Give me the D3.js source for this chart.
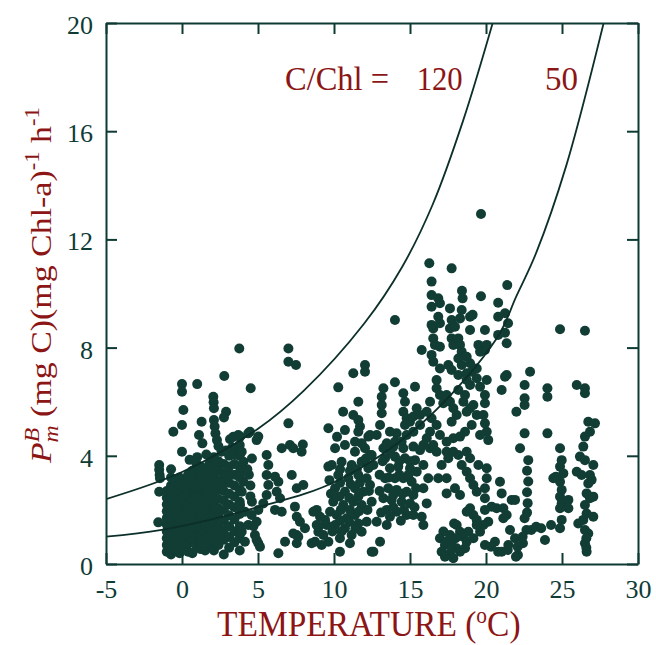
<!DOCTYPE html>
<html><head><meta charset="utf-8">
<script src="https://cdn.jsdelivr.net/npm/d3@7"></script>
<style>body{margin:0;background:#fff}svg{display:block}</style>
</head><body>
<svg id="chart" width="656" height="645"></svg>
<script>
// ---------- data ----------
const xTicks = [-5, 0, 5, 10, 15, 20, 25, 30];
const yTicks = [0, 4, 8, 12, 16, 20];
const ratioLabels = ["C/Chl =", "120", "50"];

// model curves (temperature, PmB)
const curveC120 = [[-5,2.4],[0,3.4],[5,5.0],[8,6.4],[12,8.9],[14.5,11.0],[16.5,13.3],[18.5,16.4],[20.44,20]];
const curveC50 = [[-5,1.01],[-1.34,1.26],[5,2.1],[10.18,3.07],[15.66,5.14],[20.7,8.34],[22.0,9.9],[23.3,11.5],[25.26,14.69],[27.74,20]];

// dense cold-water block: [temperature, [PmB values]]
const coldCoreColumns = [
 [-1.0, [0.45,0.7,0.95,1.2,1.45,1.7,1.95,2.2,2.45,2.7]],
 [-0.72,[0.35,0.6,0.9,1.15,1.4,1.65,1.9,2.15,2.4,2.65,2.9,3.2,3.5]],
 [-0.44,[0.5,0.8,1.05,1.3,1.55,1.8,2.05,2.3,2.55,2.8,3.05]],
 [-0.16,[0.4,0.7,0.95,1.2,1.45,1.7,1.95,2.2,2.45,2.7,2.95,3.2]],
 [0.12, [0.55,0.85,1.1,1.35,1.6,1.85,2.1,2.35,2.6,2.85,3.1]],
 [0.4,  [0.45,0.75,1.0,1.25,1.5,1.75,2.0,2.25,2.5,2.75,3.0,3.3]],
 [0.68, [0.4,0.9,1.15,1.4,1.65,1.9,2.15,2.4,2.65,2.9,3.15,3.45]],
 [0.96, [0.6,0.85,1.1,1.35,1.6,1.85,2.1,2.35,2.6,2.85,3.1,3.4,3.7]],
 [1.24, [0.55,0.8,1.05,1.3,1.55,1.8,2.05,2.3,2.55,2.8,3.05,3.35,3.6]],
 [1.52, [0.5,0.9,1.2,1.45,1.75,2.0,2.3,2.6,2.9,3.15,3.45]],
 [1.8,  [0.65,1.0,1.3,1.6,1.9,2.2,2.5,2.8,3.1,3.4,3.7]],
 [2.1,  [0.5,0.85,1.2,1.5,1.85,2.15,2.45,2.75,3.05,3.35,3.65,3.95]],
 [2.4,  [0.7,1.05,1.4,1.75,2.05,2.4,2.75,3.1,3.45,3.8]],
 [2.75, [0.35,0.9,1.25,1.6,2.0,2.35,2.7,3.0,3.35,3.7]],
 [3.1,  [0.6,1.0,1.4,1.8,2.2,2.6,3.0,3.3,3.6,4.0]],
 [3.45, [0.8,1.2,1.65,2.1,2.5,2.9,3.3,3.7,4.05]],
 [3.8,  [0.5,0.95,1.4,1.85,2.3,2.75,3.2,3.6,4.0,4.4]]
];

// scattered observations [temperature, PmB]
const obsCold = [[-1.5,3.66],[-1.5,3.48],[-1.47,3.29],[-1.45,3.17],[-1.5,2.67],[-1.56,1.54],
 [3.77,7.97],[2.78,6.95],[0.0,6.65],[0.0,6.37],[1.0,6.65],[4.52,6.5],[2.06,6.18],[2.08,5.98],[2.1,5.76],
 [2.9,5.63],[2.76,5.42],[0.09,5.69],[1.29,5.26],[-0.57,4.89],[0.0,5.14],[2.1,5.32],[2.15,5.08],[2.2,4.83],
 [2.3,4.58],[1.12,4.77],[1.34,4.46],[3.16,4.61],[3.38,4.7],[3.7,4.77],[4.36,4.83],[4.91,4.58],[0.0,4.15],
 [3.7,4.34],[2.4,4.35],[2.6,4.15],[4.47,4.89],[5.02,4.71],[3.82,4.71],[0.5,3.85],[1.0,3.95],[1.6,4.05],
 [2.9,4.2],[3.3,4.3]];

const obsCool = [[3.93,4.15],[4.04,3.78],[3.82,3.41],[4.04,3.04],[3.93,2.67],[3.82,2.18],[4.14,1.93],[4.58,1.81],
 [4.36,1.44],[3.93,1.19],[4.14,0.82],[4.8,1.07],[5.02,0.77],[4.91,1.56],[5.02,2.0],[4.5,2.5],[4.4,3.3],[4.6,3.9],
 [4.5,2.9],[4.6,2.3],[4.3,3.5],[4.7,1.4],[4.91,0.89],[5.13,0.64],
 [5.57,4.03],[5.68,3.66],[5.57,3.29],[5.68,2.92],[5.57,2.55],[5.35,2.24],
 [6.34,3.04],[6.23,2.67],[6.45,2.43],[6.56,1.93],[6.12,2.0],[6.12,3.23],[6.56,4.28],[7.1,4.4],[7.32,4.28],
 [7.95,4.42],[7.87,4.15],[7.22,3.29],[7.55,2.8],[7.98,2.92],[7.43,2.12],[7.76,1.56],[8.09,1.32],[7.55,1.07],
 [7.55,0.77],[6.78,0.82],[6.34,0.4],[8.86,2.0],[9.08,1.75],[8.86,1.44],[8.97,1.19],[8.75,0.82],[9.3,1.07],
 [9.52,1.44],[9.74,1.93],[9.63,0.82],[9.19,0.7],[8.53,0.77],[7.32,1.13],[7.65,1.01],[7.55,1.75],[8.64,1.93],
 [8.97,1.38],[9.41,1.63],[9.63,3.6],
 [7.0,7.97],[7.0,7.48],[7.5,7.36],[7.0,5.2]];

const obsTemperate = [[10.07,4.28],[10.72,4.4],[11.38,4.15],[12.04,4.28],[12.48,4.03],[9.85,3.66],[10.5,3.78],
 [11.16,3.66],[11.82,3.78],[12.26,3.54],[10.28,3.29],[10.94,3.17],[11.6,3.29],[12.15,3.17],[10.07,2.8],[10.72,2.67],
 [11.38,2.8],[11.93,2.67],[9.95,2.3],[10.61,2.18],[11.27,2.3],[11.82,2.18],[12.48,2.3],[10.18,1.81],[10.83,1.69],
 [11.38,1.81],[10.07,1.44],[10.72,1.32],[11.16,1.07],[10.39,0.95],[11.05,0.77],[11.82,1.19],[12.15,1.56],
 [10.39,0.45],[12.48,0.45],[10.4,3.5],[11.05,3.45],[11.5,3.5],[10.4,3.0],[11.1,2.95],[11.7,3.0],[10.35,2.5],
 [11.0,2.45],[11.6,2.5],[10.45,2.0],[11.05,2.0],[11.65,1.95],[10.4,1.6],[11.0,1.55],[11.6,1.5],[10.5,1.2],
 [11.4,1.3],[9.9,1.2],[12.2,2.0],[12.3,2.7],[12.1,3.9],[9.7,3.1],[9.8,2.6],
 [9.63,5.02],[10.72,4.95],[12.26,4.71],[11.38,4.52],[11.82,4.46],[11.6,5.32],[11.71,5.08],[11.6,4.89],
 [10.6,5.63],[11.27,5.51],[10.2,4.7],[12.37,4.77],[10.28,6.53],[11.6,6.0],[12.04,7.36],[12.04,7.11],[11.27,7.05]];

const obsMid = [[13.25,4.28],[13.9,4.34],[14.56,4.28],[15.22,4.34],[15.66,4.21],[16.32,4.28],[13.36,3.91],
 [14.01,3.97],[14.67,3.91],[15.33,3.84],[13.68,3.54],[14.23,3.6],[15.0,3.54],[15.44,3.41],[13.36,3.17],[14.01,3.17],
 [14.56,3.17],[15.11,3.04],[13.57,2.8],[14.12,2.74],[14.78,2.67],[15.22,2.55],[13.25,2.43],[13.79,2.37],[14.45,2.3],
 [15.0,2.24],[13.47,2.0],[14.12,1.93],[14.78,1.81],[13.68,1.75],[15.88,3.66],[16.2,3.17],[15.88,2.8],[16.1,2.24],
 [15.77,1.75],[15.88,1.44],[15.22,1.81],[12.37,4.03],[12.59,3.66],[12.37,2.92],[12.81,1.56],[13.47,1.44],
 [13.03,0.82],[12.59,0.45],[13.0,3.3],[13.6,3.2],[14.3,3.3],[14.9,3.3],[13.0,2.7],[13.9,2.55],[14.5,2.6],[15.4,2.8],
 [13.1,1.9],[13.9,2.1],[14.6,2.0],[15.3,2.1],[13.7,4.1],[14.3,3.8],[15.0,3.8],[14.4,1.6],[13.2,3.8],
 [14.01,6.72],[13.25,6.5],[13.14,6.18],[13.14,5.88],[13.14,5.57],[13.03,5.14],[12.81,4.77],[13.47,4.46],[14.01,4.52],
 [14.56,6.31],[14.67,6.0],[14.56,5.63],[14.78,5.39],[14.67,5.14],[15.0,5.26],[15.22,5.45],[15.44,5.76],[15.66,5.51],
 [15.33,6.55],[15.77,7.91],[16.42,7.73],[16.53,7.48],[16.32,6.0],[16.1,5.63],[16.42,5.39],[16.75,5.14],[16.32,4.89],
 [16.1,4.65],[16.53,4.4],[15.88,4.4],[15.66,5.14],[15.22,4.89],[14.78,4.77],[14.45,4.52],[14.12,4.83],[13.68,4.89],
 [14.01,9.02]];

const obsWarmHigh = [[16.53,8.71],[17.63,8.71],[17.96,8.77],[18.95,8.65],[19.93,8.65],[20.8,8.47],[16.53,8.34],
 [16.64,8.1],[16.97,8.03],[17.74,8.34],[17.85,8.1],[18.18,8.34],[18.29,8.1],[18.4,7.85],[18.18,7.6],[18.4,7.36],
 [18.73,7.66],[18.95,7.42],[19.5,8.1],[19.61,7.85],[19.93,7.91],[20.05,8.1],[16.97,7.23],[17.52,7.36],[17.74,7.17],
 [18.18,6.99],[18.73,7.05],[19.06,7.11],[19.39,7.23],[18.73,6.8],[18.95,6.62],[19.39,6.87],[19.61,6.55],[20.05,6.8],
 [21.36,6.99],[21.03,6.43],[19.93,6.25],[19.93,5.94],[16.75,6.8],[16.75,6.5],[16.97,6.25],[17.19,5.94],[17.41,6.25],
 [17.63,6.0],[17.85,5.76],[18.07,5.51],[17.74,5.26],[18.18,6.43],[18.62,6.25],[18.51,6.0],[18.73,5.63],[18.95,5.76],
 [19.17,5.88],[19.39,5.51],[19.83,5.51],[19.93,5.2],[20.05,4.89],[20.15,4.58],[19.61,4.77],[19.06,5.14],[18.62,4.89],
 [18.29,4.71],[17.85,4.65],[17.41,4.52],[16.97,4.77],
 [19.67,12.94],[16.27,11.12],[17.74,10.93],[16.42,10.44],[16.42,9.94],[16.86,9.82],[16.97,9.64],[16.42,9.51],
 [18.42,10.1],[18.46,9.82],[19.67,9.9],[20.8,9.66],[21.4,10.31],[17.63,9.45],[18.4,9.39],[18.95,9.14],[17.74,9.02],
 [18.29,9.08],[16.97,8.9],[16.42,8.84],[20.8,9.14],[16.86,9.14],[19.12,9.21],
 [21.25,9.27],[21.45,8.9],[21.25,8.55],[21.36,8.16]];

const obsWarmLow = [[16.75,4.15],[16.86,3.17],[17.41,3.17],[17.52,3.91],[17.41,4.15],[17.85,4.15],[18.18,4.03],
 [18.73,4.15],[18.95,3.91],[18.4,3.66],[17.08,3.66],[17.41,2.61],[17.96,2.8],[18.29,2.55],[18.73,3.41],[18.95,3.17],
 [19.17,2.92],[19.39,2.67],[19.5,3.66],[20.05,3.54],[20.05,3.17],[19.93,2.8],[20.92,3.04],[21.03,2.61],[21.14,2.06],
 [20.7,2.06],[20.37,2.12],[21.36,1.81],[19.93,2.43],[19.93,2.0],[20.15,1.56],[19.83,1.44],[19.61,1.19],[18.95,2.06],
 [19.17,1.81],[18.73,1.93],[19.39,1.63],
 [16.97,0.95],[17.3,0.7],[17.08,0.45],[17.63,0.4],[18.07,0.58],[18.07,1.44],[18.29,1.19],[18.51,1.01],[18.73,0.82],
 [18.84,1.19],[19.17,0.95],[19.39,1.44],[17.63,1.07],[17.85,0.21],[17.3,0.27],[17.41,0.82],[17.74,0.7],[18.29,0.45],
 [18.62,0.58],[19.93,0.7],[20.59,0.82],[20.8,0.45],[21.03,0.45],[17.2,1.2],[17.9,1.5],[18.0,0.95],
 [20.33,0.64],[21.43,0.52],[21.69,2.37],[21.91,2.37],[21.14,1.69],[21.58,1.26],[21.47,0.7],[21.91,0.95]];

const obsSubtropical = [[22.54,1.69],[22.66,1.26],[22.43,0.77],[22.1,0.33],[22.78,3.84],[22.7,3.45],[22.78,3.05],
 [22.7,2.65],[22.74,2.25],[22.7,1.9],[22.24,4.28],[22.98,1.26],[23.3,1.38],[23.63,1.32],[24.28,1.44],[23.88,0.89],
 [22.54,4.83],[24.04,4.83],[21.25,6.92],[22.9,7.11],[22.54,6.62],[22.54,6.13],[22.54,5.88],[22.0,5.63],
 [22.41,1.01],[22.08,0.64],[21.97,0.27]];

const obsTropical = [[24.04,6.5],[24.04,6.18],[25.97,6.62],[26.51,6.5],[26.51,6.31],[24.87,8.68],[26.51,8.62],
 [24.87,4.28],[24.98,3.84],[24.87,3.6],[25.09,3.35],[24.43,3.17],[24.87,3.04],[24.98,2.74],[24.87,2.49],[24.98,2.24],
 [25.42,2.37],[25.42,2.06],[24.87,2.06],[24.98,1.63],[24.87,1.32],[26.18,3.97],[26.51,3.84],[25.97,3.41],[26.29,3.29],
 [26.84,3.29],[27.06,3.66],[26.95,3.11],[26.73,2.98],[26.73,5.26],[27.17,5.2],[26.84,4.89],[26.51,4.71],[26.4,4.34],
 [26.62,2.61],[26.84,2.43],[26.51,2.18],[26.62,1.87],[26.4,1.63],[26.07,1.5],[26.51,1.26],[26.73,1.13],[26.51,0.77],
 [26.62,0.45],[27.06,2.49],[27.06,1.75],[24.6,3.23],[26.6,0.95],[26.6,0.6]];

// ---------- drawing ----------
const RED = "#8c1515", AX = "#0e3a34", DOT = "#113d35", TXT = "#0f3b36";
const FONT = "'Liberation Serif','Times New Roman',Times,serif";
const svg = d3.select("#chart");
const x = d3.scaleLinear().domain([-5, 30]).range([106, 638]);
const y = d3.scaleLinear().domain([0, 20]).range([564, 23]);

svg.append("defs").append("clipPath").attr("id", "plotclip")
  .append("rect").attr("x", x(-5)).attr("y", y(20)).attr("width", x(30) - x(-5)).attr("height", y(0) - y(20));

const points = [];
coldCoreColumns.forEach(([t, vals]) => vals.forEach(v => points.push([t, v])));
[obsCold, obsCool, obsTemperate, obsMid, obsWarmHigh, obsWarmLow, obsSubtropical, obsTropical]
  .forEach(arr => arr.forEach(p => points.push(p)));

svg.append("g").attr("clip-path", "url(#plotclip)")
  .selectAll("circle").data(points).join("circle")
  .attr("cx", d => x(d[0])).attr("cy", d => y(d[1])).attr("r", 5).attr("fill", DOT);

const line = d3.line().x(d => x(d[0])).y(d => y(d[1])).curve(d3.curveCatmullRom);
const cg = svg.append("g").attr("clip-path", "url(#plotclip)");
[curveC120, curveC50].forEach(c => cg.append("path").attr("d", line(c))
  .attr("fill", "none").attr("stroke", "#0c2f2a").attr("stroke-width", 1.8));

function styleAxis(g) {
  g.select(".domain").attr("stroke", AX).attr("stroke-width", 2);
  g.selectAll(".tick line").attr("stroke", AX).attr("stroke-width", 2);
  g.selectAll(".tick text").attr("fill", TXT).attr("font-family", FONT).attr("font-size", 26);
}
svg.append("g").attr("transform", `translate(0,${y(0)})`)
  .call(d3.axisBottom(x).tickValues(xTicks).tickSizeInner(-11).tickSizeOuter(0).tickPadding(16).tickFormat(d => String(d)))
  .call(styleAxis);
svg.append("g").attr("transform", `translate(0,${y(20)})`)
  .call(d3.axisTop(x).tickValues(xTicks).tickSizeInner(-11).tickSizeOuter(0).tickFormat(""))
  .call(styleAxis);
svg.append("g").attr("transform", `translate(${x(-5)},0)`)
  .call(d3.axisLeft(y).tickValues(yTicks).tickSizeInner(-11).tickSizeOuter(0).tickPadding(13).tickFormat(d => String(d)))
  .call(styleAxis)
  .call(g => g.selectAll(".tick text").attr("dy", "0.4em"));
svg.append("g").attr("transform", `translate(${x(30)},0)`)
  .call(d3.axisRight(y).tickValues(yTicks).tickSizeInner(-11).tickSizeOuter(0).tickFormat(""))
  .call(styleAxis);

// C/Chl annotation
const annX = [285, 416.7, 545], annW = [104, 46, 33];
ratioLabels.forEach((s, i) => svg.append("text").attr("x", annX[i]).attr("y", 90)
  .attr("textLength", annW[i]).attr("lengthAdjust", "spacingAndGlyphs")
  .attr("font-family", FONT).attr("font-size", 34).attr("fill", RED).text(s));

// x label
const xl = svg.append("text").attr("transform", "translate(217,636) scale(0.93,1)")
  .attr("font-family", FONT).attr("font-size", 36).attr("fill", RED);
xl.append("tspan").text("TEMPERATURE (");
xl.append("tspan").attr("font-size", 23).attr("dy", -13).text("o");
xl.append("tspan").attr("dy", 13).text("C)");

// y label
const yl = svg.append("text").attr("transform", "translate(51,463) rotate(-90) scale(1.13,1)")
  .attr("font-family", FONT).attr("font-size", 30).attr("fill", RED);
yl.append("tspan").attr("font-style", "italic").text("P");
yl.append("tspan").attr("font-style", "italic").attr("font-size", 21).attr("dy", -12).text("B");
yl.append("tspan").attr("font-style", "italic").attr("font-size", 21).attr("dx", -13).attr("dy", 19).text("m");
yl.append("tspan").attr("dy", -7).text(" (mg C)(mg Chl-a)");
yl.append("tspan").attr("font-size", 20).attr("dy", -12).text("-1");
yl.append("tspan").attr("dy", 12).text(" h");
yl.append("tspan").attr("font-size", 20).attr("dy", -12).text("-1");
</script>
</body></html>
